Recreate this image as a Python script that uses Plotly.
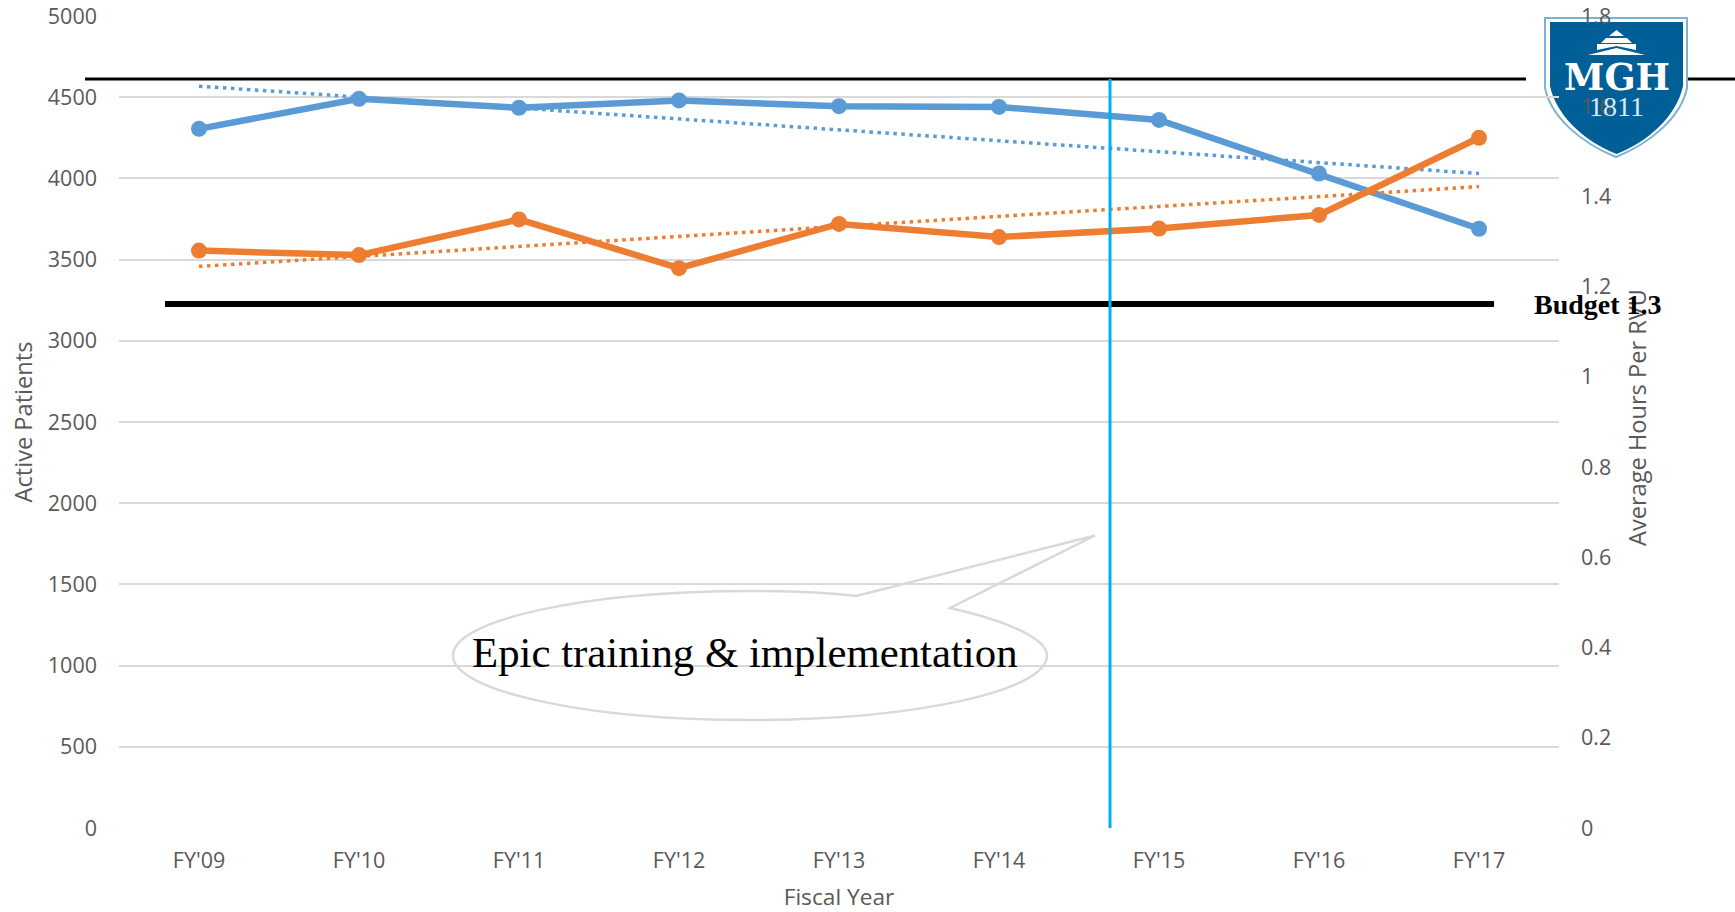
import plotly.graph_objects as go

# ---- data ----
fiscal_years = ["FY'09", "FY'10", "FY'11", "FY'12", "FY'13", "FY'14", "FY'15", "FY'16", "FY'17"]
active_patients = [4305, 4490, 4435, 4480, 4445, 4440, 4360, 4030, 3690]
avg_hours_per_rvu = [1.280, 1.270, 1.349, 1.241, 1.339, 1.310, 1.329, 1.359, 1.530]
trend_years = ["FY'09", "FY'17"]
patients_trend = [4568, 4030]
hours_trend = [1.245, 1.422]
left_ticks = [0, 500, 1000, 1500, 2000, 2500, 3000, 3500, 4000, 4500, 5000]
right_ticks = [0, 0.2, 0.4, 0.6, 0.8, 1, 1.2, 1.4, 1.6, 1.8]
right_labels = ["0", "0.2", "0.4", "0.6", "0.8", "1", "1.2", "1.4", "1.6", "1.8"]

BLUE = "#5B9BD5"
ORANGE = "#ED7D31"
GRID = "#D9D9D9"
TXT = "#595959"
SANS = "Open Sans"
SERIF = "Liberation Serif"
W, H = 1735, 912
L, R, T, B = 119, 1559, 16, 828


def X(x):
    return (x - L) / (R - L)


def Y(y):
    return 1 - (y - T) / (B - T)


def path(cmds):
    out = []
    for c in cmds:
        if c == "Z":
            out.append("Z")
        else:
            out.append(c[0] + " " + " ".join(
                f"{X(c[i]):.5f},{Y(c[i + 1]):.5f}" for i in range(1, len(c), 2)))
    return " ".join(out)


def pshape(cmds, fill="rgba(0,0,0,0)", line=None, width=0, layer="below"):
    return dict(type="path", xref="paper", yref="paper", path=path(cmds),
                fillcolor=fill, line=dict(color=line or "rgba(0,0,0,0)", width=width), layer=layer)


def hline(x0, x1, y, width, color="#000000", layer="below"):
    return dict(type="line", xref="paper", yref="paper", x0=X(x0), x1=X(x1), y0=Y(y), y1=Y(y),
                line=dict(color=color, width=width), layer=layer)


def shield(x0, x1, top, sag, tip):
    cx = (x0 + x1) / 2
    return [("M", x0, top), ("L", x1, top), ("L", x1, sag),
            ("C", x1 - 6, tip - 40, cx + 35, tip - 14, cx, tip),
            ("C", cx - 35, tip - 14, x0 + 6, tip - 40, x0, sag), "Z"]


fig = go.Figure()
fig.add_trace(go.Scatter(x=trend_years, y=patients_trend, mode="lines", yaxis="y",
                         line=dict(color=BLUE, width=3.5, dash="3.5px,4.5px")))
fig.add_trace(go.Scatter(x=trend_years, y=hours_trend, mode="lines", yaxis="y2",
                         line=dict(color=ORANGE, width=3.5, dash="3.5px,4.5px")))
fig.add_trace(go.Scatter(x=fiscal_years, y=active_patients, mode="lines+markers", yaxis="y",
                         name="Active Patients", line=dict(color=BLUE, width=6.5),
                         marker=dict(color=BLUE, size=16)))
fig.add_trace(go.Scatter(x=fiscal_years, y=avg_hours_per_rvu, mode="lines+markers", yaxis="y2",
                         name="Average Hours Per RVU", line=dict(color=ORANGE, width=6.5),
                         marker=dict(color=ORANGE, size=16)))

# callout ellipse with a wedge pointing at the blue line
ecx, ecy, rx, ry = 750, 655.5, 297, 64.5
k = 0.5523
callout = [
    ("M", 856, 596), ("L", 1095, 535.5), ("L", 950, 608),
    ("C", 1012, 622, ecx + rx, 640, ecx + rx, ecy),
    ("C", ecx + rx, ecy + k * ry, ecx + k * rx, ecy + ry, ecx, ecy + ry),
    ("C", ecx - k * rx, ecy + ry, ecx - rx, ecy + k * ry, ecx - rx, ecy),
    ("C", ecx - rx, ecy - k * ry, ecx - k * rx, ecy - ry, ecx, ecy - ry),
    ("C", 790, ecy - ry, 825, 592, 856, 596), "Z",
]

shapes = [
    hline(85, 1526, 79, 3),
    hline(1686, 1735, 79, 3),
    hline(165, 1494, 304, 6),
    pshape(shield(1545, 1687, 18, 88, 157), fill="#FFFFFF", line="#7FB2D1", width=2),
    pshape(shield(1550, 1683, 22, 86, 154), fill="#005F97"),
    pshape([("M", 1616.5, 30), ("L", 1624, 36), ("L", 1609, 36), "Z"], fill="#FFFFFF"),
    pshape([("M", 1606, 38), ("L", 1627, 38), ("L", 1632, 43), ("L", 1601, 43), "Z"], fill="#FFFFFF"),
    pshape([("M", 1597, 44), ("L", 1636, 44), ("L", 1636, 50), ("L", 1616.5, 46), ("L", 1597, 50), "Z"], fill="#FFFFFF"),
    pshape([("M", 1588, 55), ("L", 1616.5, 48), ("L", 1645, 55), "Z"], fill="#FFFFFF"),
    pshape(callout, line=GRID, width=2.5, layer="above"),
    dict(type="line", xref="paper", yref="paper", x0=X(1110), x1=X(1110), y0=Y(79), y1=Y(828),
         line=dict(color="#00B0F0", width=3), layer="above"),
]

annotations = [
    dict(text="Epic training &amp; implementation", x=X(744.5), y=Y(652), xref="paper", yref="paper",
         xanchor="center", yanchor="middle", showarrow=False,
         font=dict(family=SERIF, size=42.8, color="#000000")),
    dict(text="Average Hours Per RVU", x=X(1637), y=Y(418), xref="paper", yref="paper",
         xanchor="center", yanchor="middle", textangle=-90, showarrow=False,
         font=dict(family=SANS, size=23.6, color=TXT)),
    dict(text="<b>Budget 1.3</b>", x=X(1598), y=Y(304), xref="paper", yref="paper",
         xanchor="center", yanchor="middle", showarrow=False,
         font=dict(family=SERIF, size=28, color="#000000")),
    dict(text="<b>MGH</b>", x=X(1616.5), y=Y(77), xref="paper", yref="paper",
         xanchor="center", yanchor="middle", showarrow=False,
         font=dict(family="DejaVu Serif", size=36.5, color="#FFFFFF")),
    dict(text="1811", x=X(1616.5), y=Y(107), xref="paper", yref="paper",
         xanchor="center", yanchor="middle", showarrow=False,
         font=dict(family=SERIF, size=28, color="#DCE9F2")),
]

fig.update_layout(
    width=W, height=H, showlegend=False, plot_bgcolor="#FFFFFF", paper_bgcolor="#FFFFFF",
    margin=dict(l=L, r=W - R, t=T, b=H - B, autoexpand=False),
    hovermode=False, shapes=shapes, annotations=annotations,
    xaxis=dict(type="category", categoryorder="array", categoryarray=fiscal_years, range=[-0.5, 8.5],
               showgrid=False, zeroline=False, showline=False, ticks="", ticklabelstandoff=17,
               tickfont=dict(family=SANS, size=21.5, color=TXT),
               title=dict(text="Fiscal Year", font=dict(family=SANS, size=22.7, color=TXT), standoff=18)),
    yaxis=dict(range=[0, 5000], tickvals=left_ticks, showgrid=True, gridcolor=GRID, gridwidth=2,
               zeroline=False, showline=False, ticks="", ticklabelstandoff=21,
               tickfont=dict(family=SANS, size=21.5, color=TXT),
               title=dict(text="Active Patients", font=dict(family=SANS, size=23.6, color=TXT), standoff=8)),
    yaxis2=dict(range=[0, 1.8], tickvals=right_ticks, ticktext=right_labels, overlaying="y", side="right",
                showgrid=False, zeroline=False, showline=False, ticks="", ticklabelstandoff=21,
                tickfont=dict(family=SANS, size=21.5, color=TXT)),
)

fig.write_html("out.html", config=dict(displayModeBar=False),
               post_script="document.body.style.margin='0';document.body.style.overflow='hidden';")
